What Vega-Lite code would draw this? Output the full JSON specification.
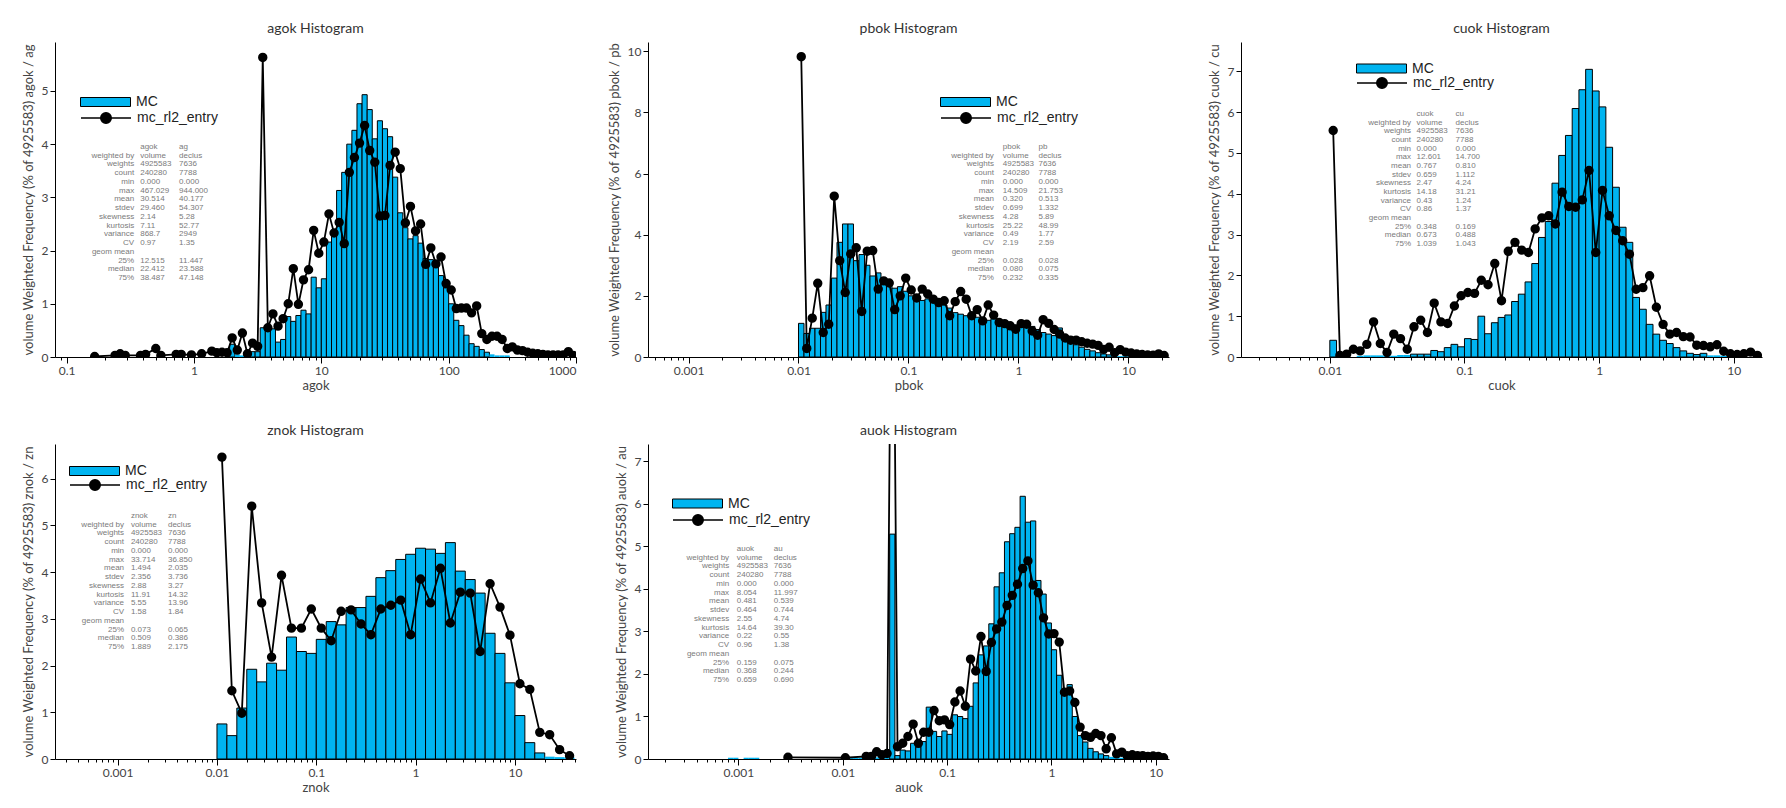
{
"$schema": "https://vega.github.io/schema/vega-lite/v6.json",
"background": "white",
"padding": {"left": 22, "top": 22, "right": 5, "bottom": 5},
"config": {
  "view": {"stroke": null},
  "font": "Lato",
  "axis": {"grid": false, "domainColor": "#000", "tickColor": "#000", "labelColor": "#444", "titleColor": "#444", "labelFont": "Lato", "titleFont": "Lato", "labelFontSize": 12, "titleFontSize": 13, "titleFontWeight": "normal"},
  "axisY": {"tickSize": 5, "titlePadding": 6},
  "axisX": {"labelPadding": 2, "titlePadding": 3},
  "title": {"fontSize": 14, "fontWeight": "normal", "font": "Lato", "color": "#333", "offset": 6},
  "legend": {"labelFont": "Liberation Sans Narrow, Liberation Sans, sans-serif", "labelFontSize": 14, "labelColor": "#222", "padding": 0},
  "text": {"font": "Liberation Sans Narrow, Liberation Sans, sans-serif", "fontSize": 8, "color": "#7a7a7a"}
},
"datasets": {
"agok": [
{"lo":0.15849,"hi":0.17378,"mid":0.16596,"rl2":0.01},
{"lo":0.22909,"hi":0.25119,"mid":0.23988,"rl2":0.03},
{"lo":0.25119,"hi":0.27542,"mid":0.26303,"rl2":0.06},
{"lo":0.27542,"hi":0.302,"mid":0.2884,"rl2":0.03},
{"lo":0.36308,"hi":0.39811,"mid":0.38019,"rl2":0.03},
{"lo":0.39811,"hi":0.43652,"mid":0.41687,"rl2":0.05},
{"lo":0.47863,"hi":0.52481,"mid":0.50119,"rl2":0.16},
{"lo":0.52481,"hi":0.57544,"mid":0.54954,"rl2":0.03},
{"lo":0.69183,"hi":0.75858,"mid":0.72444,"rl2":0.05},
{"lo":0.75858,"hi":0.83176,"mid":0.79433,"rl2":0.05},
{"lo":0.91201,"hi":1,"mid":0.95499,"rl2":0.04},
{"lo":1.0965,"hi":1.2023,"mid":1.1482,"rl2":0.06},
{"lo":1.3183,"hi":1.4454,"mid":1.3804,"rl2":0.11},
{"lo":1.4454,"hi":1.5849,"mid":1.5136,"rl2":0.08},
{"lo":1.5849,"hi":1.7378,"mid":1.6596,"rl2":0.09},
{"lo":1.7378,"hi":1.9055,"mid":1.8197,"rl2":0.08},
{"lo":1.9055,"hi":2.0893,"mid":1.9953,"mc":0.24,"rl2":0.36},
{"lo":2.0893,"hi":2.2909,"mid":2.1878,"mc":0.05,"rl2":0.13},
{"lo":2.2909,"hi":2.5119,"mid":2.3988,"mc":0.03,"rl2":0.45},
{"lo":2.5119,"hi":2.7542,"mid":2.6303,"mc":0.03,"rl2":0.06},
{"lo":2.7542,"hi":3.02,"mid":2.884,"mc":0.1,"rl2":0.26},
{"lo":3.02,"hi":3.3113,"mid":3.1623,"mc":0.1,"rl2":0.2},
{"lo":3.3113,"hi":3.6308,"mid":3.4674,"mc":0.55,"rl2":5.63},
{"lo":3.6308,"hi":3.9811,"mid":3.8019,"mc":0.55,"rl2":0.55},
{"lo":3.9811,"hi":4.3652,"mid":4.1687,"mc":0.53,"rl2":0.81},
{"lo":4.3652,"hi":4.7863,"mid":4.5709,"mc":0.28,"rl2":0.58},
{"lo":4.7863,"hi":5.2481,"mid":5.0119,"mc":0.33,"rl2":0.72},
{"lo":5.2481,"hi":5.7544,"mid":5.4954,"mc":0.76,"rl2":1.0},
{"lo":5.7544,"hi":6.3096,"mid":6.0256,"mc":0.67,"rl2":1.66},
{"lo":6.3096,"hi":6.9183,"mid":6.6069,"mc":0.78,"rl2":0.99},
{"lo":6.9183,"hi":7.5858,"mid":7.2444,"mc":0.88,"rl2":1.45},
{"lo":7.5858,"hi":8.3176,"mid":7.9433,"mc":0.81,"rl2":1.64},
{"lo":8.3176,"hi":9.1201,"mid":8.7096,"mc":1.5,"rl2":2.38},
{"lo":9.1201,"hi":10,"mid":9.5499,"mc":1.3,"rl2":1.95},
{"lo":10,"hi":10.965,"mid":10.471,"mc":1.47,"rl2":2.16},
{"lo":10.965,"hi":12.023,"mid":11.482,"mc":2.16,"rl2":2.69},
{"lo":12.023,"hi":13.183,"mid":12.589,"mc":2.27,"rl2":2.33},
{"lo":13.183,"hi":14.454,"mid":13.804,"mc":3.13,"rl2":2.53},
{"lo":14.454,"hi":15.849,"mid":15.136,"mc":3.47,"rl2":2.13},
{"lo":15.849,"hi":17.378,"mid":16.596,"mc":4.0,"rl2":3.47},
{"lo":17.378,"hi":19.055,"mid":18.197,"mc":4.26,"rl2":3.75},
{"lo":19.055,"hi":20.893,"mid":19.953,"mc":4.76,"rl2":4.02},
{"lo":20.893,"hi":22.909,"mid":21.878,"mc":4.93,"rl2":4.35},
{"lo":22.909,"hi":25.119,"mid":23.988,"mc":4.65,"rl2":3.88},
{"lo":25.119,"hi":27.542,"mid":26.303,"mc":4.1,"rl2":3.66},
{"lo":27.542,"hi":30.2,"mid":28.84,"mc":4.44,"rl2":2.65},
{"lo":30.2,"hi":33.113,"mid":31.623,"mc":4.29,"rl2":2.66},
{"lo":33.113,"hi":36.308,"mid":34.674,"mc":4.14,"rl2":3.6},
{"lo":36.308,"hi":39.811,"mid":38.019,"mc":3.38,"rl2":3.85},
{"lo":39.811,"hi":43.652,"mid":41.687,"mc":2.71,"rl2":3.54},
{"lo":43.652,"hi":47.863,"mid":45.709,"mc":2.43,"rl2":2.52},
{"lo":47.863,"hi":52.481,"mid":50.119,"mc":2.22,"rl2":2.83},
{"lo":52.481,"hi":57.544,"mid":54.954,"mc":2.28,"rl2":2.37},
{"lo":57.544,"hi":63.096,"mid":60.256,"mc":2.14,"rl2":2.5},
{"lo":63.096,"hi":69.183,"mid":66.069,"mc":1.85,"rl2":1.74},
{"lo":69.183,"hi":75.858,"mid":72.444,"mc":1.83,"rl2":2.05},
{"lo":75.858,"hi":83.176,"mid":79.433,"mc":1.74,"rl2":1.75},
{"lo":83.176,"hi":91.201,"mid":87.096,"mc":1.53,"rl2":1.88},
{"lo":91.201,"hi":100,"mid":95.499,"mc":1.3,"rl2":1.38},
{"lo":100,"hi":109.65,"mid":104.71,"mc":1.0,"rl2":1.26},
{"lo":109.65,"hi":120.23,"mid":114.82,"mc":0.69,"rl2":0.91},
{"lo":120.23,"hi":131.83,"mid":125.89,"mc":0.59,"rl2":0.92},
{"lo":131.83,"hi":144.54,"mid":138.04,"mc":0.41,"rl2":0.92},
{"lo":144.54,"hi":158.49,"mid":151.36,"mc":0.25,"rl2":0.83},
{"lo":158.49,"hi":173.78,"mid":165.96,"mc":0.2,"rl2":0.96},
{"lo":173.78,"hi":190.55,"mid":181.97,"mc":0.14,"rl2":0.44},
{"lo":190.55,"hi":208.93,"mid":199.53,"mc":0.09,"rl2":0.33},
{"lo":208.93,"hi":229.09,"mid":218.78,"mc":0.05,"rl2":0.39},
{"lo":229.09,"hi":251.19,"mid":239.88,"mc":0.03,"rl2":0.39},
{"lo":251.19,"hi":275.42,"mid":263.03,"mc":0.03,"rl2":0.33},
{"lo":275.42,"hi":302.0,"mid":288.4,"mc":0.03,"rl2":0.16},
{"lo":302.0,"hi":331.13,"mid":316.23,"rl2":0.19},
{"lo":331.13,"hi":363.08,"mid":346.74,"rl2":0.13},
{"lo":363.08,"hi":398.11,"mid":380.19,"rl2":0.12},
{"lo":398.11,"hi":436.52,"mid":416.87,"rl2":0.09},
{"lo":436.52,"hi":478.63,"mid":457.09,"rl2":0.07},
{"lo":478.63,"hi":524.81,"mid":501.19,"rl2":0.06},
{"lo":524.81,"hi":575.44,"mid":549.54,"rl2":0.05},
{"lo":575.44,"hi":630.96,"mid":602.56,"rl2":0.04},
{"lo":630.96,"hi":691.83,"mid":660.69,"rl2":0.04},
{"lo":691.83,"hi":758.58,"mid":724.44,"rl2":0.04},
{"lo":758.58,"hi":831.76,"mid":794.33,"rl2":0.04},
{"lo":831.76,"hi":912.01,"mid":870.96,"rl2":0.1},
{"lo":912.01,"hi":1000,"mid":954.99,"rl2":0.03}
],
"pbok": [
{"lo":0.01,"hi":0.01122,"mid":0.010593,"mc":1.1,"rl2":9.82},
{"lo":0.01122,"hi":0.012589,"mid":0.011885,"mc":0.77,"rl2":0.28},
{"lo":0.012589,"hi":0.014125,"mid":0.013335,"mc":0.94,"rl2":1.27},
{"lo":0.014125,"hi":0.015849,"mid":0.014962,"mc":0.94,"rl2":2.41},
{"lo":0.015849,"hi":0.017783,"mid":0.016788,"mc":1.46,"rl2":0.8},
{"lo":0.017783,"hi":0.019953,"mid":0.018836,"mc":1.7,"rl2":1.07},
{"lo":0.019953,"hi":0.022387,"mid":0.021135,"mc":2.58,"rl2":5.26},
{"lo":0.022387,"hi":0.025119,"mid":0.023714,"mc":3.75,"rl2":3.15},
{"lo":0.025119,"hi":0.028184,"mid":0.026607,"mc":4.35,"rl2":2.11},
{"lo":0.028184,"hi":0.031623,"mid":0.029854,"mc":4.35,"rl2":3.37},
{"lo":0.031623,"hi":0.035481,"mid":0.033497,"mc":3.15,"rl2":3.57},
{"lo":0.035481,"hi":0.039811,"mid":0.037584,"mc":3.35,"rl2":1.49},
{"lo":0.039811,"hi":0.044668,"mid":0.04217,"mc":3.0,"rl2":3.46},
{"lo":0.044668,"hi":0.050119,"mid":0.047315,"mc":2.65,"rl2":3.48},
{"lo":0.050119,"hi":0.056234,"mid":0.053088,"mc":2.75,"rl2":2.22},
{"lo":0.056234,"hi":0.063096,"mid":0.059566,"mc":2.45,"rl2":2.49},
{"lo":0.063096,"hi":0.070795,"mid":0.066834,"mc":2.35,"rl2":2.42},
{"lo":0.070795,"hi":0.079433,"mid":0.074989,"mc":2.25,"rl2":1.55},
{"lo":0.079433,"hi":0.089125,"mid":0.08414,"mc":2.3,"rl2":2.0},
{"lo":0.089125,"hi":0.1,"mid":0.094406,"mc":2.15,"rl2":2.58},
{"lo":0.1,"hi":0.1122,"mid":0.10593,"mc":2.0,"rl2":2.19},
{"lo":0.1122,"hi":0.12589,"mid":0.11885,"mc":1.95,"rl2":1.93},
{"lo":0.12589,"hi":0.14125,"mid":0.13335,"mc":1.85,"rl2":2.22},
{"lo":0.14125,"hi":0.15849,"mid":0.14962,"mc":1.9,"rl2":2.06},
{"lo":0.15849,"hi":0.17783,"mid":0.16788,"mc":1.9,"rl2":1.89},
{"lo":0.17783,"hi":0.19953,"mid":0.18836,"mc":1.75,"rl2":1.78},
{"lo":0.19953,"hi":0.22387,"mid":0.21135,"mc":1.7,"rl2":1.84},
{"lo":0.22387,"hi":0.25119,"mid":0.23714,"mc":1.6,"rl2":1.35},
{"lo":0.25119,"hi":0.28184,"mid":0.26607,"mc":1.45,"rl2":1.81},
{"lo":0.28184,"hi":0.31623,"mid":0.29854,"mc":1.4,"rl2":2.14},
{"lo":0.31623,"hi":0.35481,"mid":0.33497,"mc":1.35,"rl2":1.89},
{"lo":0.35481,"hi":0.39811,"mid":0.37584,"mc":1.32,"rl2":1.35},
{"lo":0.39811,"hi":0.44668,"mid":0.4217,"mc":1.3,"rl2":1.55},
{"lo":0.44668,"hi":0.50119,"mid":0.47315,"mc":1.25,"rl2":1.18},
{"lo":0.50119,"hi":0.56234,"mid":0.53088,"mc":1.2,"rl2":1.7},
{"lo":0.56234,"hi":0.63096,"mid":0.59566,"mc":1.25,"rl2":1.37},
{"lo":0.63096,"hi":0.70795,"mid":0.66834,"mc":1.15,"rl2":1.13},
{"lo":0.70795,"hi":0.79433,"mid":0.74989,"mc":1.1,"rl2":1.09},
{"lo":0.79433,"hi":0.89125,"mid":0.8414,"mc":1.12,"rl2":1.02},
{"lo":0.89125,"hi":1,"mid":0.94406,"mc":1.05,"rl2":0.91},
{"lo":1,"hi":1.122,"mid":1.0593,"mc":1.15,"rl2":1.09},
{"lo":1.122,"hi":1.2589,"mid":1.1885,"mc":1.15,"rl2":1.07},
{"lo":1.2589,"hi":1.4125,"mid":1.3335,"mc":1.0,"rl2":0.85},
{"lo":1.4125,"hi":1.5849,"mid":1.4962,"mc":0.9,"rl2":0.71},
{"lo":1.5849,"hi":1.7783,"mid":1.6788,"mc":0.8,"rl2":1.22},
{"lo":1.7783,"hi":1.9953,"mid":1.8836,"mc":0.75,"rl2":1.1},
{"lo":1.9953,"hi":2.2387,"mid":2.1135,"mc":0.7,"rl2":0.9},
{"lo":2.2387,"hi":2.5119,"mid":2.3714,"mc":0.95,"rl2":0.75},
{"lo":2.5119,"hi":2.8184,"mid":2.6607,"mc":0.6,"rl2":0.62},
{"lo":2.8184,"hi":3.1623,"mid":2.9854,"mc":0.5,"rl2":0.55},
{"lo":3.1623,"hi":3.5481,"mid":3.3497,"mc":0.4,"rl2":0.55},
{"lo":3.5481,"hi":3.9811,"mid":3.7584,"mc":0.32,"rl2":0.5},
{"lo":3.9811,"hi":4.4668,"mid":4.217,"mc":0.25,"rl2":0.45},
{"lo":4.4668,"hi":5.0119,"mid":4.7315,"mc":0.2,"rl2":0.42},
{"lo":5.0119,"hi":5.6234,"mid":5.3088,"mc":0.14,"rl2":0.38},
{"lo":5.6234,"hi":6.3096,"mid":5.9566,"mc":0.1,"rl2":0.25},
{"lo":6.3096,"hi":7.0795,"mid":6.6834,"mc":0.07,"rl2":0.32},
{"lo":7.0795,"hi":7.9433,"mid":7.4989,"mc":0.04,"rl2":0.14},
{"lo":7.9433,"hi":8.9125,"mid":8.414,"mc":0.03,"rl2":0.24},
{"lo":8.9125,"hi":10,"mid":9.4406,"mc":0.03,"rl2":0.16},
{"lo":10,"hi":11.22,"mid":10.593,"mc":0.03,"rl2":0.13},
{"lo":11.22,"hi":12.589,"mid":11.885,"rl2":0.1},
{"lo":12.589,"hi":14.125,"mid":13.335,"rl2":0.08},
{"lo":14.125,"hi":15.849,"mid":14.962,"rl2":0.07},
{"lo":15.849,"hi":17.783,"mid":16.788,"rl2":0.06},
{"lo":17.783,"hi":19.953,"mid":18.836,"rl2":0.1},
{"lo":19.953,"hi":22.387,"mid":21.135,"rl2":0.05}
],
"cuok": [
{"lo":0.01,"hi":0.01122,"mid":0.010593,"mc":0.41,"rl2":5.55},
{"lo":0.01122,"hi":0.012589,"mid":0.011885,"rl2":0.04},
{"lo":0.012589,"hi":0.014125,"mid":0.013335,"rl2":0.07},
{"lo":0.014125,"hi":0.015849,"mid":0.014962,"rl2":0.19},
{"lo":0.015849,"hi":0.017783,"mid":0.016788,"mc":0.03,"rl2":0.15},
{"lo":0.017783,"hi":0.019953,"mid":0.018836,"mc":0.04,"rl2":0.31},
{"lo":0.019953,"hi":0.022387,"mid":0.021135,"mc":0.04,"rl2":0.86},
{"lo":0.022387,"hi":0.025119,"mid":0.023714,"mc":0.04,"rl2":0.33},
{"lo":0.025119,"hi":0.028184,"mid":0.026607,"mc":0.03,"rl2":0.11},
{"lo":0.028184,"hi":0.031623,"mid":0.029854,"mc":0.03,"rl2":0.56},
{"lo":0.031623,"hi":0.035481,"mid":0.033497,"mc":0.05,"rl2":0.45},
{"lo":0.035481,"hi":0.039811,"mid":0.037584,"mc":0.05,"rl2":0.19},
{"lo":0.039811,"hi":0.044668,"mid":0.04217,"mc":0.07,"rl2":0.74},
{"lo":0.044668,"hi":0.050119,"mid":0.047315,"mc":0.07,"rl2":0.9},
{"lo":0.050119,"hi":0.056234,"mid":0.053088,"mc":0.07,"rl2":0.6},
{"lo":0.056234,"hi":0.063096,"mid":0.059566,"mc":0.16,"rl2":1.32},
{"lo":0.063096,"hi":0.070795,"mid":0.066834,"mc":0.13,"rl2":0.86},
{"lo":0.070795,"hi":0.079433,"mid":0.074989,"mc":0.23,"rl2":0.82},
{"lo":0.079433,"hi":0.089125,"mid":0.08414,"mc":0.31,"rl2":1.25},
{"lo":0.089125,"hi":0.1,"mid":0.094406,"mc":0.25,"rl2":1.5},
{"lo":0.1,"hi":0.1122,"mid":0.10593,"mc":0.45,"rl2":1.58},
{"lo":0.1122,"hi":0.12589,"mid":0.11885,"mc":0.43,"rl2":1.56},
{"lo":0.12589,"hi":0.14125,"mid":0.13335,"mc":1.0,"rl2":1.88},
{"lo":0.14125,"hi":0.15849,"mid":0.14962,"mc":0.57,"rl2":1.77},
{"lo":0.15849,"hi":0.17783,"mid":0.16788,"mc":0.84,"rl2":2.29},
{"lo":0.17783,"hi":0.19953,"mid":0.18836,"mc":0.97,"rl2":1.38},
{"lo":0.19953,"hi":0.22387,"mid":0.21135,"mc":1.03,"rl2":2.59},
{"lo":0.22387,"hi":0.25119,"mid":0.23714,"mc":1.36,"rl2":2.81},
{"lo":0.25119,"hi":0.28184,"mid":0.26607,"mc":1.54,"rl2":2.62},
{"lo":0.28184,"hi":0.31623,"mid":0.29854,"mc":1.84,"rl2":2.56},
{"lo":0.31623,"hi":0.35481,"mid":0.33497,"mc":2.29,"rl2":3.14},
{"lo":0.35481,"hi":0.39811,"mid":0.37584,"mc":2.93,"rl2":3.41},
{"lo":0.39811,"hi":0.44668,"mid":0.4217,"mc":3.32,"rl2":3.46},
{"lo":0.44668,"hi":0.50119,"mid":0.47315,"mc":4.26,"rl2":3.26},
{"lo":0.50119,"hi":0.56234,"mid":0.53088,"mc":4.94,"rl2":4.04},
{"lo":0.56234,"hi":0.63096,"mid":0.59566,"mc":5.43,"rl2":3.69},
{"lo":0.63096,"hi":0.70795,"mid":0.66834,"mc":6.09,"rl2":3.67},
{"lo":0.70795,"hi":0.79433,"mid":0.74989,"mc":6.55,"rl2":3.85},
{"lo":0.79433,"hi":0.89125,"mid":0.8414,"mc":7.05,"rl2":4.57},
{"lo":0.89125,"hi":1,"mid":0.94406,"mc":6.52,"rl2":2.56},
{"lo":1,"hi":1.122,"mid":1.0593,"mc":6.13,"rl2":4.08},
{"lo":1.122,"hi":1.2589,"mid":1.1885,"mc":5.14,"rl2":3.46},
{"lo":1.2589,"hi":1.4125,"mid":1.3335,"mc":4.16,"rl2":3.1},
{"lo":1.4125,"hi":1.5849,"mid":1.4962,"mc":3.18,"rl2":2.85},
{"lo":1.5849,"hi":1.7783,"mid":1.6788,"mc":2.81,"rl2":2.52},
{"lo":1.7783,"hi":1.9953,"mid":1.8836,"mc":1.46,"rl2":1.66},
{"lo":1.9953,"hi":2.2387,"mid":2.1135,"mc":1.17,"rl2":1.7},
{"lo":2.2387,"hi":2.5119,"mid":2.3714,"mc":0.8,"rl2":1.99},
{"lo":2.5119,"hi":2.8184,"mid":2.6607,"mc":0.56,"rl2":1.22},
{"lo":2.8184,"hi":3.1623,"mid":2.9854,"mc":0.41,"rl2":0.8},
{"lo":3.1623,"hi":3.5481,"mid":3.3497,"mc":0.33,"rl2":0.56},
{"lo":3.5481,"hi":3.9811,"mid":3.7584,"mc":0.23,"rl2":0.6},
{"lo":3.9811,"hi":4.4668,"mid":4.217,"mc":0.15,"rl2":0.5},
{"lo":4.4668,"hi":5.0119,"mid":4.7315,"mc":0.09,"rl2":0.49},
{"lo":5.0119,"hi":5.6234,"mid":5.3088,"mc":0.06,"rl2":0.29},
{"lo":5.6234,"hi":6.3096,"mid":5.9566,"mc":0.09,"rl2":0.28},
{"lo":6.3096,"hi":7.0795,"mid":6.6834,"mc":0.04,"rl2":0.25},
{"lo":7.0795,"hi":7.9433,"mid":7.4989,"mc":0.04,"rl2":0.3},
{"lo":7.9433,"hi":8.9125,"mid":8.414,"mc":0.03,"rl2":0.14},
{"lo":8.9125,"hi":10,"mid":9.4406,"rl2":0.08},
{"lo":10,"hi":11.22,"mid":10.593,"rl2":0.06},
{"lo":11.22,"hi":12.589,"mid":11.885,"rl2":0.08},
{"lo":12.589,"hi":14.125,"mid":13.335,"rl2":0.12},
{"lo":14.125,"hi":15.849,"mid":14.962,"rl2":0.04}
],
"znok": [
{"lo":0.01,"hi":0.012589,"mid":0.01122,"mc":0.75,"rl2":6.46},
{"lo":0.012589,"hi":0.015849,"mid":0.014125,"mc":0.5,"rl2":1.46},
{"lo":0.015849,"hi":0.019953,"mid":0.017783,"mc":1.09,"rl2":0.98},
{"lo":0.019953,"hi":0.025119,"mid":0.022387,"mc":1.92,"rl2":5.41},
{"lo":0.025119,"hi":0.031623,"mid":0.028184,"mc":1.65,"rl2":3.34},
{"lo":0.031623,"hi":0.039811,"mid":0.035481,"mc":2.05,"rl2":2.18},
{"lo":0.039811,"hi":0.050119,"mid":0.044668,"mc":1.9,"rl2":3.93},
{"lo":0.050119,"hi":0.063096,"mid":0.056234,"mc":2.61,"rl2":2.8},
{"lo":0.063096,"hi":0.079433,"mid":0.070795,"mc":2.3,"rl2":2.8},
{"lo":0.079433,"hi":0.1,"mid":0.089125,"mc":2.26,"rl2":3.21},
{"lo":0.1,"hi":0.12589,"mid":0.1122,"mc":2.56,"rl2":2.8},
{"lo":0.12589,"hi":0.15849,"mid":0.14125,"mc":2.94,"rl2":2.53},
{"lo":0.15849,"hi":0.19953,"mid":0.17783,"mc":2.87,"rl2":3.16},
{"lo":0.19953,"hi":0.25119,"mid":0.22387,"mc":3.24,"rl2":3.19},
{"lo":0.25119,"hi":0.31623,"mid":0.28184,"mc":3.24,"rl2":2.89},
{"lo":0.31623,"hi":0.39811,"mid":0.35481,"mc":3.48,"rl2":2.66},
{"lo":0.39811,"hi":0.50119,"mid":0.44668,"mc":3.88,"rl2":3.21},
{"lo":0.50119,"hi":0.63096,"mid":0.56234,"mc":4.03,"rl2":3.29},
{"lo":0.63096,"hi":0.79433,"mid":0.70795,"mc":4.27,"rl2":3.4},
{"lo":0.79433,"hi":1,"mid":0.89125,"mc":4.38,"rl2":2.66},
{"lo":1,"hi":1.2589,"mid":1.122,"mc":4.51,"rl2":3.85},
{"lo":1.2589,"hi":1.5849,"mid":1.4125,"mc":4.49,"rl2":3.34},
{"lo":1.5849,"hi":1.9953,"mid":1.7783,"mc":4.4,"rl2":4.08},
{"lo":1.9953,"hi":2.5119,"mid":2.2387,"mc":4.63,"rl2":2.91},
{"lo":2.5119,"hi":3.1623,"mid":2.8184,"mc":4.02,"rl2":3.57},
{"lo":3.1623,"hi":3.9811,"mid":3.5481,"mc":3.84,"rl2":3.55},
{"lo":3.9811,"hi":5.0119,"mid":4.4668,"mc":3.55,"rl2":2.3},
{"lo":5.0119,"hi":6.3096,"mid":5.6234,"mc":2.69,"rl2":3.75},
{"lo":6.3096,"hi":7.9433,"mid":7.0795,"mc":2.26,"rl2":3.25},
{"lo":7.9433,"hi":10,"mid":8.9125,"mc":1.63,"rl2":2.65},
{"lo":10,"hi":12.589,"mid":11.22,"mc":0.93,"rl2":1.61},
{"lo":12.589,"hi":15.849,"mid":14.125,"mc":0.35,"rl2":1.49},
{"lo":15.849,"hi":19.953,"mid":17.783,"mc":0.13,"rl2":0.57},
{"lo":19.953,"hi":25.119,"mid":22.387,"mc":0.05,"rl2":0.52},
{"lo":25.119,"hi":31.623,"mid":28.184,"mc":0.04,"rl2":0.2},
{"lo":31.623,"hi":39.811,"mid":35.481,"mc":0.03,"rl2":0.07}
],
"auok": [
{"lo":0.00079433,"hi":0.00089125,"mid":0.0008414,"mc":0.03},
{"lo":0.00089125,"hi":0.001,"mid":0.00094406,"mc":0.03},
{"lo":0.001122,"hi":0.0012589,"mid":0.0011885,"mc":0.03},
{"lo":0.0012589,"hi":0.0014125,"mid":0.0013335,"mc":0.03},
{"lo":0.0014125,"hi":0.0015849,"mid":0.0014962,"mc":0.03},
{"lo":0.0028184,"hi":0.0031623,"mid":0.0029854,"rl2":0.04},
{"lo":0.01,"hi":0.01122,"mid":0.010593,"mc":0.03,"rl2":0.03},
{"lo":0.01122,"hi":0.012589,"mid":0.011885,"mc":0.03},
{"lo":0.012589,"hi":0.014125,"mid":0.013335,"mc":0.03},
{"lo":0.014125,"hi":0.015849,"mid":0.014962,"mc":0.03},
{"lo":0.015849,"hi":0.017783,"mid":0.016788,"mc":0.03,"rl2":0.06},
{"lo":0.017783,"hi":0.019953,"mid":0.018836,"mc":0.03,"rl2":0.06},
{"lo":0.019953,"hi":0.022387,"mid":0.021135,"mc":0.04,"rl2":0.17},
{"lo":0.022387,"hi":0.025119,"mid":0.023714,"mc":0.04,"rl2":0.1},
{"lo":0.025119,"hi":0.028184,"mid":0.026607,"mc":0.05,"rl2":0.13},
{"lo":0.028184,"hi":0.031623,"mid":0.029854,"mc":5.29,"rl2":15},
{"lo":0.031623,"hi":0.035481,"mid":0.033497,"mc":0.08,"rl2":0.29},
{"lo":0.035481,"hi":0.039811,"mid":0.037584,"mc":0.21,"rl2":0.37},
{"lo":0.039811,"hi":0.044668,"mid":0.04217,"mc":0.19,"rl2":0.53},
{"lo":0.044668,"hi":0.050119,"mid":0.047315,"mc":0.37,"rl2":0.82},
{"lo":0.050119,"hi":0.056234,"mid":0.053088,"mc":0.28,"rl2":0.37},
{"lo":0.056234,"hi":0.063096,"mid":0.059566,"mc":0.41,"rl2":0.63},
{"lo":0.063096,"hi":0.070795,"mid":0.066834,"mc":1.22,"rl2":0.63},
{"lo":0.070795,"hi":0.079433,"mid":0.074989,"mc":0.65,"rl2":1.14},
{"lo":0.079433,"hi":0.089125,"mid":0.08414,"mc":0.53,"rl2":0.9},
{"lo":0.089125,"hi":0.1,"mid":0.094406,"mc":0.66,"rl2":0.92},
{"lo":0.1,"hi":0.1122,"mid":0.10593,"mc":0.58,"rl2":0.81},
{"lo":0.1122,"hi":0.12589,"mid":0.11885,"mc":1.04,"rl2":1.34},
{"lo":0.12589,"hi":0.14125,"mid":0.13335,"mc":1.0,"rl2":1.6},
{"lo":0.14125,"hi":0.15849,"mid":0.14962,"mc":0.95,"rl2":1.24},
{"lo":0.15849,"hi":0.17783,"mid":0.16788,"mc":1.24,"rl2":2.35},
{"lo":0.17783,"hi":0.19953,"mid":0.18836,"mc":1.79,"rl2":2.07},
{"lo":0.19953,"hi":0.22387,"mid":0.21135,"mc":2.45,"rl2":2.88},
{"lo":0.22387,"hi":0.25119,"mid":0.23714,"mc":2.66,"rl2":2.06},
{"lo":0.25119,"hi":0.28184,"mid":0.26607,"mc":3.18,"rl2":2.74},
{"lo":0.28184,"hi":0.31623,"mid":0.29854,"mc":4.05,"rl2":3.06},
{"lo":0.31623,"hi":0.35481,"mid":0.33497,"mc":4.38,"rl2":3.22},
{"lo":0.35481,"hi":0.39811,"mid":0.37584,"mc":5.11,"rl2":3.61},
{"lo":0.39811,"hi":0.44668,"mid":0.4217,"mc":5.3,"rl2":3.85},
{"lo":0.44668,"hi":0.50119,"mid":0.47315,"mc":5.45,"rl2":4.11},
{"lo":0.50119,"hi":0.56234,"mid":0.53088,"mc":6.18,"rl2":4.48},
{"lo":0.56234,"hi":0.63096,"mid":0.59566,"mc":5.57,"rl2":4.66},
{"lo":0.63096,"hi":0.70795,"mid":0.66834,"mc":5.6,"rl2":4.09},
{"lo":0.70795,"hi":0.79433,"mid":0.74989,"mc":4.2,"rl2":3.91},
{"lo":0.79433,"hi":0.89125,"mid":0.8414,"mc":3.88,"rl2":3.32},
{"lo":0.89125,"hi":1,"mid":0.94406,"mc":3.2,"rl2":2.94},
{"lo":1,"hi":1.122,"mid":1.0593,"mc":2.57,"rl2":2.95},
{"lo":1.122,"hi":1.2589,"mid":1.1885,"mc":1.97,"rl2":2.75},
{"lo":1.2589,"hi":1.4125,"mid":1.3335,"mc":1.52,"rl2":1.57},
{"lo":1.4125,"hi":1.5849,"mid":1.4962,"mc":1.75,"rl2":1.6},
{"lo":1.5849,"hi":1.7783,"mid":1.6788,"mc":1.0,"rl2":1.33},
{"lo":1.7783,"hi":1.9953,"mid":1.8836,"mc":0.55,"rl2":0.75},
{"lo":1.9953,"hi":2.2387,"mid":2.1135,"mc":0.4,"rl2":0.55},
{"lo":2.2387,"hi":2.5119,"mid":2.3714,"mc":0.25,"rl2":0.51},
{"lo":2.5119,"hi":2.8184,"mid":2.6607,"mc":0.17,"rl2":0.6},
{"lo":2.8184,"hi":3.1623,"mid":2.9854,"mc":0.12,"rl2":0.55},
{"lo":3.1623,"hi":3.5481,"mid":3.3497,"mc":0.08,"rl2":0.24},
{"lo":3.5481,"hi":3.9811,"mid":3.7584,"mc":0.05,"rl2":0.5},
{"lo":3.9811,"hi":4.4668,"mid":4.217,"mc":0.04,"rl2":0.12},
{"lo":4.4668,"hi":5.0119,"mid":4.7315,"mc":0.03,"rl2":0.16},
{"lo":5.0119,"hi":5.6234,"mid":5.3088,"mc":0.03,"rl2":0.08},
{"lo":5.6234,"hi":6.3096,"mid":5.9566,"rl2":0.1},
{"lo":6.3096,"hi":7.0795,"mid":6.6834,"rl2":0.08},
{"lo":7.0795,"hi":7.9433,"mid":7.4989,"rl2":0.08},
{"lo":7.9433,"hi":8.9125,"mid":8.414,"rl2":0.06},
{"lo":8.9125,"hi":10,"mid":9.4406,"rl2":0.07},
{"lo":10,"hi":11.22,"mid":10.593,"rl2":0.06},
{"lo":11.22,"hi":12.589,"mid":11.885,"rl2":0.03}
],
"agok_stats": [
{"i":0,"c0":"","c1":"agok","c2":"ag"},
{"i":1,"c0":"weighted by","c1":"volume","c2":"declus"},
{"i":2,"c0":"weights","c1":"4925583","c2":"7636"},
{"i":3,"c0":"count","c1":"240280","c2":"7788"},
{"i":4,"c0":"min","c1":"0.000","c2":"0.000"},
{"i":5,"c0":"max","c1":"467.029","c2":"944.000"},
{"i":6,"c0":"mean","c1":"30.514","c2":"40.177"},
{"i":7,"c0":"stdev","c1":"29.460","c2":"54.307"},
{"i":8,"c0":"skewness","c1":"2.14","c2":"5.28"},
{"i":9,"c0":"kurtosis","c1":"7.11","c2":"52.77"},
{"i":10,"c0":"variance","c1":"868.7","c2":"2949"},
{"i":11,"c0":"CV","c1":"0.97","c2":"1.35"},
{"i":12,"c0":"geom mean","c1":"","c2":""},
{"i":13,"c0":"25%","c1":"12.515","c2":"11.447"},
{"i":14,"c0":"median","c1":"22.412","c2":"23.588"},
{"i":15,"c0":"75%","c1":"38.487","c2":"47.148"}
],
"pbok_stats": [
{"i":0,"c0":"","c1":"pbok","c2":"pb"},
{"i":1,"c0":"weighted by","c1":"volume","c2":"declus"},
{"i":2,"c0":"weights","c1":"4925583","c2":"7636"},
{"i":3,"c0":"count","c1":"240280","c2":"7788"},
{"i":4,"c0":"min","c1":"0.000","c2":"0.000"},
{"i":5,"c0":"max","c1":"14.509","c2":"21.753"},
{"i":6,"c0":"mean","c1":"0.320","c2":"0.513"},
{"i":7,"c0":"stdev","c1":"0.699","c2":"1.332"},
{"i":8,"c0":"skewness","c1":"4.28","c2":"5.89"},
{"i":9,"c0":"kurtosis","c1":"25.22","c2":"48.99"},
{"i":10,"c0":"variance","c1":"0.49","c2":"1.77"},
{"i":11,"c0":"CV","c1":"2.19","c2":"2.59"},
{"i":12,"c0":"geom mean","c1":"","c2":""},
{"i":13,"c0":"25%","c1":"0.028","c2":"0.028"},
{"i":14,"c0":"median","c1":"0.080","c2":"0.075"},
{"i":15,"c0":"75%","c1":"0.232","c2":"0.335"}
],
"cuok_stats": [
{"i":0,"c0":"","c1":"cuok","c2":"cu"},
{"i":1,"c0":"weighted by","c1":"volume","c2":"declus"},
{"i":2,"c0":"weights","c1":"4925583","c2":"7636"},
{"i":3,"c0":"count","c1":"240280","c2":"7788"},
{"i":4,"c0":"min","c1":"0.000","c2":"0.000"},
{"i":5,"c0":"max","c1":"12.601","c2":"14.700"},
{"i":6,"c0":"mean","c1":"0.767","c2":"0.810"},
{"i":7,"c0":"stdev","c1":"0.659","c2":"1.112"},
{"i":8,"c0":"skewness","c1":"2.47","c2":"4.24"},
{"i":9,"c0":"kurtosis","c1":"14.18","c2":"31.21"},
{"i":10,"c0":"variance","c1":"0.43","c2":"1.24"},
{"i":11,"c0":"CV","c1":"0.86","c2":"1.37"},
{"i":12,"c0":"geom mean","c1":"","c2":""},
{"i":13,"c0":"25%","c1":"0.348","c2":"0.169"},
{"i":14,"c0":"median","c1":"0.673","c2":"0.488"},
{"i":15,"c0":"75%","c1":"1.039","c2":"1.043"}
],
"znok_stats": [
{"i":0,"c0":"","c1":"znok","c2":"zn"},
{"i":1,"c0":"weighted by","c1":"volume","c2":"declus"},
{"i":2,"c0":"weights","c1":"4925583","c2":"7636"},
{"i":3,"c0":"count","c1":"240280","c2":"7788"},
{"i":4,"c0":"min","c1":"0.000","c2":"0.000"},
{"i":5,"c0":"max","c1":"33.714","c2":"36.850"},
{"i":6,"c0":"mean","c1":"1.494","c2":"2.035"},
{"i":7,"c0":"stdev","c1":"2.356","c2":"3.736"},
{"i":8,"c0":"skewness","c1":"2.88","c2":"3.27"},
{"i":9,"c0":"kurtosis","c1":"11.91","c2":"14.32"},
{"i":10,"c0":"variance","c1":"5.55","c2":"13.96"},
{"i":11,"c0":"CV","c1":"1.58","c2":"1.84"},
{"i":12,"c0":"geom mean","c1":"","c2":""},
{"i":13,"c0":"25%","c1":"0.073","c2":"0.065"},
{"i":14,"c0":"median","c1":"0.509","c2":"0.386"},
{"i":15,"c0":"75%","c1":"1.889","c2":"2.175"}
],
"auok_stats": [
{"i":0,"c0":"","c1":"auok","c2":"au"},
{"i":1,"c0":"weighted by","c1":"volume","c2":"declus"},
{"i":2,"c0":"weights","c1":"4925583","c2":"7636"},
{"i":3,"c0":"count","c1":"240280","c2":"7788"},
{"i":4,"c0":"min","c1":"0.000","c2":"0.000"},
{"i":5,"c0":"max","c1":"8.054","c2":"11.997"},
{"i":6,"c0":"mean","c1":"0.481","c2":"0.539"},
{"i":7,"c0":"stdev","c1":"0.464","c2":"0.744"},
{"i":8,"c0":"skewness","c1":"2.55","c2":"4.74"},
{"i":9,"c0":"kurtosis","c1":"14.64","c2":"39.30"},
{"i":10,"c0":"variance","c1":"0.22","c2":"0.55"},
{"i":11,"c0":"CV","c1":"0.96","c2":"1.38"},
{"i":12,"c0":"geom mean","c1":"","c2":""},
{"i":13,"c0":"25%","c1":"0.159","c2":"0.075"},
{"i":14,"c0":"median","c1":"0.368","c2":"0.244"},
{"i":15,"c0":"75%","c1":"0.659","c2":"0.690"}
]
},
"columns": 3,
"spacing": {"row": 87, "column": 72},
"bounds": "flush",
"resolve": {"scale": {"fill": "independent", "stroke": "independent"}, "legend": {"fill": "independent", "stroke": "independent"}},
"concat": [
{
 "title": "agok Histogram", "width": 521, "height": 315,
 "layer": [
  {"data": {"name": "agok"}, "layer": [
   {"transform": [{"filter": "datum.mc != null"}],
    "mark": {"type": "bar", "stroke": "black", "strokeWidth": 1, "clip": true},
    "encoding": {
     "x": {"field": "lo", "type": "quantitative", "scale": {"type": "log", "domain": [0.081, 1000], "nice": false},
       "axis": {"title": "agok", "format": "~g", "values": [0.09,0.1,0.2,0.3,0.4,0.5,0.6,0.7,0.8,0.9,1,2,3,4,5,6,7,8,9,10,20,30,40,50,60,70,80,90,100,200,300,400,500,600,700,800,900,1000],
         "labelExpr": "abs(log(datum.value)/LN10 - round(log(datum.value)/LN10)) < 0.000001 ? datum.label : ''",
         "tickSize": {"condition": {"test": "abs(log(datum.value)/LN10 - round(log(datum.value)/LN10)) < 0.000001", "value": 6}, "value": 3}}},
     "x2": {"field": "hi"},
     "y": {"field": "mc", "type": "quantitative", "scale": {"domain": [0, 5.92], "nice": false}, "axis": {"title": "volume Weighted Frequency (% of 4925583) agok / ag", "values": [0,1,2,3,4,5]}},
     "y2": {"datum": 0},
     "fill": {"datum": "MC", "scale": {"range": ["#00B4F0"]}, "legend": {"orient": "none", "legendX": 25, "legendY": 34.5, "title": null, "symbolType": "M-1,-0.18H1V0.18H-1Z", "symbolSize": 2500, "symbolStrokeColor": "black", "symbolStrokeWidth": 1, "labelOffset": 5}},
     "strokeOpacity": {"condition": {"test": "datum.mc < 0.06", "value": 0}, "value": 1}
    }},
   {"transform": [{"filter": "datum.rl2 != null"}],
    "mark": {"type": "line", "color": "black", "strokeWidth": 1.8, "clip": true},
    "encoding": {"x": {"field": "mid", "type": "quantitative"}, "y": {"field": "rl2", "type": "quantitative"}}},
   {"transform": [{"filter": "datum.rl2 != null"}],
    "mark": {"type": "point", "filled": true, "size": 55, "color": "black", "opacity": 1, "clip": true},
    "encoding": {"x": {"field": "mid", "type": "quantitative"}, "y": {"field": "rl2", "type": "quantitative"},
     "stroke": {"datum": "mc_rl2_entry", "scale": {"range": ["black"]}, "legend": {"orient": "none", "legendX": 25, "legendY": 50, "title": null, "symbolType": "M-1,0H1M0.21,0A0.21,0.21 0 1,1 -0.21,0A0.21,0.21 0 1,1 0.21,0", "symbolSize": 2500, "symbolStrokeWidth": 1.5, "symbolFillColor": "black", "labelOffset": 5}}}}
  ]},
  {"data": {"name": "agok_stats"},
   "encoding": {"y": {"field": "i", "type": "ordinal", "scale": {"type": "point", "range": [105, 236], "padding": 0}, "axis": null}},
   "layer": [
    {"mark": {"type": "text", "align": "right", "baseline": "middle"}, "encoding": {"x": {"datum": 0.339, "type": "quantitative"}, "text": {"field": "c0"}}},
    {"mark": {"type": "text", "align": "left", "baseline": "middle"}, "encoding": {"x": {"datum": 0.378, "type": "quantitative"}, "text": {"field": "c1"}}},
    {"mark": {"type": "text", "align": "left", "baseline": "middle"}, "encoding": {"x": {"datum": 0.764, "type": "quantitative"}, "text": {"field": "c2"}}}
   ]}
 ],
 "resolve": {"scale": {"y": "independent"}}
},
{
 "title": "pbok Histogram", "width": 521, "height": 315,
 "layer": [
  {"data": {"name": "pbok"}, "layer": [
   {"transform": [{"filter": "datum.mc != null"}],
    "mark": {"type": "bar", "stroke": "black", "strokeWidth": 1, "clip": true},
    "encoding": {
     "x": {"field": "lo", "type": "quantitative", "scale": {"type": "log", "domain": [0.000428, 23.4], "nice": false},
       "axis": {"title": "pbok", "format": "~g", "values": [0.0005,0.0006,0.0007,0.0008,0.0009,0.001,0.002,0.003,0.004,0.005,0.006,0.007,0.008,0.009,0.01,0.02,0.03,0.04,0.05,0.06,0.07,0.08,0.09,0.1,0.2,0.3,0.4,0.5,0.6,0.7,0.8,0.9,1,2,3,4,5,6,7,8,9,10,20],
         "labelExpr": "abs(log(datum.value)/LN10 - round(log(datum.value)/LN10)) < 0.000001 ? datum.label : ''",
         "tickSize": {"condition": {"test": "abs(log(datum.value)/LN10 - round(log(datum.value)/LN10)) < 0.000001", "value": 6}, "value": 3}}},
     "x2": {"field": "hi"},
     "y": {"field": "mc", "type": "quantitative", "scale": {"domain": [0, 10.3], "nice": false}, "axis": {"title": "volume Weighted Frequency (% of 4925583) pbok / pb", "values": [0,1,2,3,4,5,6,7,8,9,10]}},
     "y2": {"datum": 0},
     "fill": {"datum": "MC", "scale": {"range": ["#00B4F0"]}, "legend": {"orient": "none", "legendX": 292, "legendY": 34.5, "title": null, "symbolType": "M-1,-0.18H1V0.18H-1Z", "symbolSize": 2500, "symbolStrokeColor": "black", "symbolStrokeWidth": 1, "labelOffset": 5}},
     "strokeOpacity": {"condition": {"test": "datum.mc < 0.06", "value": 0}, "value": 1}
    }},
   {"transform": [{"filter": "datum.rl2 != null"}],
    "mark": {"type": "line", "color": "black", "strokeWidth": 1.8, "clip": true},
    "encoding": {"x": {"field": "mid", "type": "quantitative"}, "y": {"field": "rl2", "type": "quantitative"}}},
   {"transform": [{"filter": "datum.rl2 != null"}],
    "mark": {"type": "point", "filled": true, "size": 55, "color": "black", "opacity": 1, "clip": true},
    "encoding": {"x": {"field": "mid", "type": "quantitative"}, "y": {"field": "rl2", "type": "quantitative"},
     "stroke": {"datum": "mc_rl2_entry", "scale": {"range": ["black"]}, "legend": {"orient": "none", "legendX": 292, "legendY": 50, "title": null, "symbolType": "M-1,0H1M0.21,0A0.21,0.21 0 1,1 -0.21,0A0.21,0.21 0 1,1 0.21,0", "symbolSize": 2500, "symbolStrokeWidth": 1.5, "symbolFillColor": "black", "labelOffset": 5}}}}
  ]},
  {"data": {"name": "pbok_stats"},
   "encoding": {"y": {"field": "i", "type": "ordinal", "scale": {"type": "point", "range": [105, 236], "padding": 0}, "axis": null}},
   "layer": [
    {"mark": {"type": "text", "align": "right", "baseline": "middle"}, "encoding": {"x": {"datum": 0.598, "type": "quantitative"}, "text": {"field": "c0"}}},
    {"mark": {"type": "text", "align": "left", "baseline": "middle"}, "encoding": {"x": {"datum": 0.722, "type": "quantitative"}, "text": {"field": "c1"}}},
    {"mark": {"type": "text", "align": "left", "baseline": "middle"}, "encoding": {"x": {"datum": 1.52, "type": "quantitative"}, "text": {"field": "c2"}}}
   ]}
 ],
 "resolve": {"scale": {"y": "independent"}}
},
{
 "title": "cuok Histogram", "width": 521, "height": 315,
 "layer": [
  {"data": {"name": "cuok"}, "layer": [
   {"transform": [{"filter": "datum.mc != null"}],
    "mark": {"type": "bar", "stroke": "black", "strokeWidth": 1, "clip": true},
    "encoding": {
     "x": {"field": "lo", "type": "quantitative", "scale": {"type": "log", "domain": [0.00219, 16.2], "nice": false},
       "axis": {"title": "cuok", "format": "~g", "values": [0.003,0.004,0.005,0.006,0.007,0.008,0.009,0.01,0.02,0.03,0.04,0.05,0.06,0.07,0.08,0.09,0.1,0.2,0.3,0.4,0.5,0.6,0.7,0.8,0.9,1,2,3,4,5,6,7,8,9,10],
         "labelExpr": "abs(log(datum.value)/LN10 - round(log(datum.value)/LN10)) < 0.000001 ? datum.label : ''",
         "tickSize": {"condition": {"test": "abs(log(datum.value)/LN10 - round(log(datum.value)/LN10)) < 0.000001", "value": 6}, "value": 3}}},
     "x2": {"field": "hi"},
     "y": {"field": "mc", "type": "quantitative", "scale": {"domain": [0, 7.72], "nice": false}, "axis": {"title": "volume Weighted Frequency (% of 4925583) cuok / cu", "values": [0,1,2,3,4,5,6,7]}},
     "y2": {"datum": 0},
     "fill": {"datum": "MC", "scale": {"range": ["#00B4F0"]}, "legend": {"orient": "none", "legendX": 115, "legendY": 1, "title": null, "symbolType": "M-1,-0.18H1V0.18H-1Z", "symbolSize": 2500, "symbolStrokeColor": "black", "symbolStrokeWidth": 1, "labelOffset": 5}},
     "strokeOpacity": {"condition": {"test": "datum.mc < 0.06", "value": 0}, "value": 1}
    }},
   {"transform": [{"filter": "datum.rl2 != null"}],
    "mark": {"type": "line", "color": "black", "strokeWidth": 1.8, "clip": true},
    "encoding": {"x": {"field": "mid", "type": "quantitative"}, "y": {"field": "rl2", "type": "quantitative"}}},
   {"transform": [{"filter": "datum.rl2 != null"}],
    "mark": {"type": "point", "filled": true, "size": 55, "color": "black", "opacity": 1, "clip": true},
    "encoding": {"x": {"field": "mid", "type": "quantitative"}, "y": {"field": "rl2", "type": "quantitative"},
     "stroke": {"datum": "mc_rl2_entry", "scale": {"range": ["black"]}, "legend": {"orient": "none", "legendX": 115, "legendY": 15, "title": null, "symbolType": "M-1,0H1M0.21,0A0.21,0.21 0 1,1 -0.21,0A0.21,0.21 0 1,1 0.21,0", "symbolSize": 2500, "symbolStrokeWidth": 1.5, "symbolFillColor": "black", "labelOffset": 5}}}}
  ]},
  {"data": {"name": "cuok_stats"},
   "encoding": {"y": {"field": "i", "type": "ordinal", "scale": {"type": "point", "range": [72, 202], "padding": 0}, "axis": null}},
   "layer": [
    {"mark": {"type": "text", "align": "right", "baseline": "middle"}, "encoding": {"x": {"datum": 0.0401, "type": "quantitative"}, "text": {"field": "c0"}}},
    {"mark": {"type": "text", "align": "left", "baseline": "middle"}, "encoding": {"x": {"datum": 0.0441, "type": "quantitative"}, "text": {"field": "c1"}}},
    {"mark": {"type": "text", "align": "left", "baseline": "middle"}, "encoding": {"x": {"datum": 0.0859, "type": "quantitative"}, "text": {"field": "c2"}}}
   ]}
 ],
 "resolve": {"scale": {"y": "independent"}}
},
{
 "title": "znok Histogram", "width": 521, "height": 315,
 "layer": [
  {"data": {"name": "znok"}, "layer": [
   {"transform": [{"filter": "datum.mc != null"}],
    "mark": {"type": "bar", "stroke": "black", "strokeWidth": 1, "clip": true},
    "encoding": {
     "x": {"field": "lo", "type": "quantitative", "scale": {"type": "log", "domain": [0.000234, 41.2], "nice": false},
       "axis": {"title": "znok", "format": "~g", "values": [0.0003,0.0004,0.0005,0.0006,0.0007,0.0008,0.0009,0.001,0.002,0.003,0.004,0.005,0.006,0.007,0.008,0.009,0.01,0.02,0.03,0.04,0.05,0.06,0.07,0.08,0.09,0.1,0.2,0.3,0.4,0.5,0.6,0.7,0.8,0.9,1,2,3,4,5,6,7,8,9,10,20,30,40],
         "labelExpr": "abs(log(datum.value)/LN10 - round(log(datum.value)/LN10)) < 0.000001 ? datum.label : ''",
         "tickSize": {"condition": {"test": "abs(log(datum.value)/LN10 - round(log(datum.value)/LN10)) < 0.000001", "value": 6}, "value": 3}}},
     "x2": {"field": "hi"},
     "y": {"field": "mc", "type": "quantitative", "scale": {"domain": [0, 6.74], "nice": false}, "axis": {"title": "volume Weighted Frequency (% of 4925583) znok / zn", "values": [0,1,2,3,4,5,6]}},
     "y2": {"datum": 0},
     "fill": {"datum": "MC", "scale": {"range": ["#00B4F0"]}, "legend": {"orient": "none", "legendX": 14, "legendY": 1.5, "title": null, "symbolType": "M-1,-0.18H1V0.18H-1Z", "symbolSize": 2500, "symbolStrokeColor": "black", "symbolStrokeWidth": 1, "labelOffset": 5}},
     "strokeOpacity": {"condition": {"test": "datum.mc < 0.06", "value": 0}, "value": 1}
    }},
   {"transform": [{"filter": "datum.rl2 != null"}],
    "mark": {"type": "line", "color": "black", "strokeWidth": 1.8, "clip": true},
    "encoding": {"x": {"field": "mid", "type": "quantitative"}, "y": {"field": "rl2", "type": "quantitative"}}},
   {"transform": [{"filter": "datum.rl2 != null"}],
    "mark": {"type": "point", "filled": true, "size": 55, "color": "black", "opacity": 1, "clip": true},
    "encoding": {"x": {"field": "mid", "type": "quantitative"}, "y": {"field": "rl2", "type": "quantitative"},
     "stroke": {"datum": "mc_rl2_entry", "scale": {"range": ["black"]}, "legend": {"orient": "none", "legendX": 14, "legendY": 15, "title": null, "symbolType": "M-1,0H1M0.21,0A0.21,0.21 0 1,1 -0.21,0A0.21,0.21 0 1,1 0.21,0", "symbolSize": 2500, "symbolStrokeWidth": 1.5, "symbolFillColor": "black", "labelOffset": 5}}}}
  ]},
  {"data": {"name": "znok_stats"},
   "encoding": {"y": {"field": "i", "type": "ordinal", "scale": {"type": "point", "range": [72, 203], "padding": 0}, "axis": null}},
   "layer": [
    {"mark": {"type": "text", "align": "right", "baseline": "middle"}, "encoding": {"x": {"datum": 0.00116, "type": "quantitative"}, "text": {"field": "c0"}}},
    {"mark": {"type": "text", "align": "left", "baseline": "middle"}, "encoding": {"x": {"datum": 0.00136, "type": "quantitative"}, "text": {"field": "c1"}}},
    {"mark": {"type": "text", "align": "left", "baseline": "middle"}, "encoding": {"x": {"datum": 0.00321, "type": "quantitative"}, "text": {"field": "c2"}}}
   ]}
 ],
 "resolve": {"scale": {"y": "independent"}}
},
{
 "title": "auok Histogram", "width": 521, "height": 315,
 "layer": [
  {"data": {"name": "auok"}, "layer": [
   {"transform": [{"filter": "datum.mc != null"}],
    "mark": {"type": "bar", "stroke": "black", "strokeWidth": 1, "clip": true},
    "encoding": {
     "x": {"field": "lo", "type": "quantitative", "scale": {"type": "log", "domain": [0.000136, 13.4], "nice": false},
       "axis": {"title": "auok", "format": "~g", "values": [0.0002,0.0003,0.0004,0.0005,0.0006,0.0007,0.0008,0.0009,0.001,0.002,0.003,0.004,0.005,0.006,0.007,0.008,0.009,0.01,0.02,0.03,0.04,0.05,0.06,0.07,0.08,0.09,0.1,0.2,0.3,0.4,0.5,0.6,0.7,0.8,0.9,1,2,3,4,5,6,7,8,9,10],
         "labelExpr": "abs(log(datum.value)/LN10 - round(log(datum.value)/LN10)) < 0.000001 ? datum.label : ''",
         "tickSize": {"condition": {"test": "abs(log(datum.value)/LN10 - round(log(datum.value)/LN10)) < 0.000001", "value": 6}, "value": 3}}},
     "x2": {"field": "hi"},
     "y": {"field": "mc", "type": "quantitative", "scale": {"domain": [0, 7.41], "nice": false}, "axis": {"title": "volume Weighted Frequency (% of 4925583) auok / au", "values": [0,1,2,3,4,5,6,7]}},
     "y2": {"datum": 0},
     "fill": {"datum": "MC", "scale": {"range": ["#00B4F0"]}, "legend": {"orient": "none", "legendX": 24, "legendY": 34, "title": null, "symbolType": "M-1,-0.18H1V0.18H-1Z", "symbolSize": 2500, "symbolStrokeColor": "black", "symbolStrokeWidth": 1, "labelOffset": 5}},
     "strokeOpacity": {"condition": {"test": "datum.mc < 0.06", "value": 0}, "value": 1}
    }},
   {"transform": [{"filter": "datum.rl2 != null"}],
    "mark": {"type": "line", "color": "black", "strokeWidth": 1.8, "clip": true},
    "encoding": {"x": {"field": "mid", "type": "quantitative"}, "y": {"field": "rl2", "type": "quantitative"}}},
   {"transform": [{"filter": "datum.rl2 != null"}],
    "mark": {"type": "point", "filled": true, "size": 55, "color": "black", "opacity": 1, "clip": true},
    "encoding": {"x": {"field": "mid", "type": "quantitative"}, "y": {"field": "rl2", "type": "quantitative"},
     "stroke": {"datum": "mc_rl2_entry", "scale": {"range": ["black"]}, "legend": {"orient": "none", "legendX": 24, "legendY": 50, "title": null, "symbolType": "M-1,0H1M0.21,0A0.21,0.21 0 1,1 -0.21,0A0.21,0.21 0 1,1 0.21,0", "symbolSize": 2500, "symbolStrokeWidth": 1.5, "symbolFillColor": "black", "labelOffset": 5}}}}
  ]},
  {"data": {"name": "auok_stats"},
   "encoding": {"y": {"field": "i", "type": "ordinal", "scale": {"type": "point", "range": [105, 236], "padding": 0}, "axis": null}},
   "layer": [
    {"mark": {"type": "text", "align": "right", "baseline": "middle"}, "encoding": {"x": {"datum": 0.000815, "type": "quantitative"}, "text": {"field": "c0"}}},
    {"mark": {"type": "text", "align": "left", "baseline": "middle"}, "encoding": {"x": {"datum": 0.000964, "type": "quantitative"}, "text": {"field": "c1"}}},
    {"mark": {"type": "text", "align": "left", "baseline": "middle"}, "encoding": {"x": {"datum": 0.00218, "type": "quantitative"}, "text": {"field": "c2"}}}
   ]}
 ],
 "resolve": {"scale": {"y": "independent"}}
}
]
}
